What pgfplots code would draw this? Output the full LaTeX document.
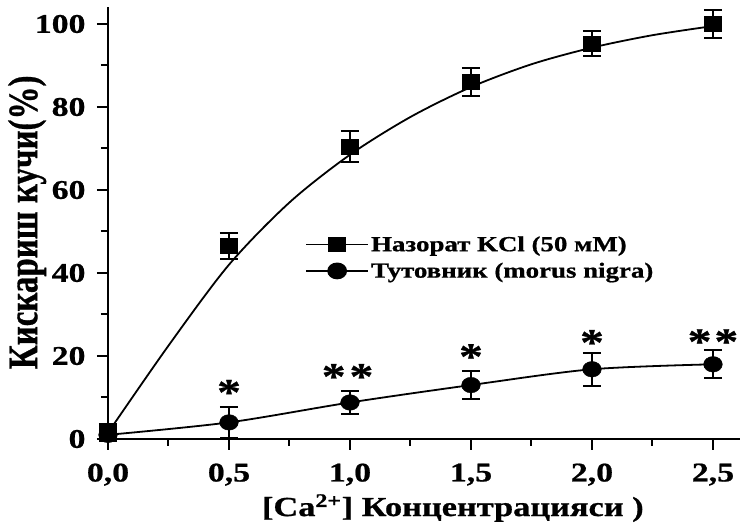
\documentclass[border=0pt]{standalone}
\usepackage{fontspec}
\setmainfont{Liberation Serif}[FakeStretch=1.25, BoldFeatures={FakeBold=0.8}]
\newfontfamily\ylabfont{Liberation Serif}[BoldFeatures={FakeBold=0.8}]
\usepackage{graphicx}
\usepackage{pgfplots}
\pgfplotsset{compat=1.18}

\pgfplotstableread{
x y e
0.0 1.5 2.0
0.5 46.5 3.2
1.0 70.4 3.7
1.5 86.0 3.3
2.0 95.2 3.0
2.5 100.0 3.4
}\control
\pgfplotstableread{
x y
0.00 1.5
0.25 22.5
0.50 42.0
0.75 57.0
1.00 68.5
1.25 77.6
1.50 84.8
1.75 90.3
2.00 94.3
2.25 97.3
2.50 99.5
}\controlfit
\pgfplotstableread{
x y e
0.0 1.0 1.0
0.5 4.0 3.7
1.0 8.8 2.8
1.5 13.0 3.4
2.0 16.8 4.0
2.5 18.0 3.4
}\morus
\pgfplotstableread{
x y s
0.5 8.2 *
0.99 12.0 *\kern4pt*
1.5 16.8 *
2.0 20.2 *
2.5 20.4 *\kern3pt*
}\stars

\begin{document}
\begin{tikzpicture}
\useasboundingbox (-108pt,-93pt) rectangle (632pt,439pt);
\begin{axis}[
  scale only axis, width=631.6pt, height=431.6pt,
  xmin=0, xmax=2.61, ymin=0, ymax=104,
  axis x line*=bottom, axis y line*=left,
  axis line style={line width=2.6pt, -},
  xtick={0,0.5,1,1.5,2,2.5},
  xticklabels={{0,0},{0,5},{1,0},{1,5},{2,0},{2,5}},
  minor xtick={0.25,0.75,1.25,1.75,2.25},
  ytick={0,20,40,60,80,100},
  yticklabels={0,20,40,60,80,100},
  minor ytick={10,30,50,70,90},
  tick align=outside,
  major tick length=11pt, minor tick length=7pt,
  every tick/.style={line width=2pt, black},
  tick label style={font=\fontsize{27}{27}\selectfont\bfseries},
  xticklabel style={yshift=-10pt},
  yticklabel style={xshift=-8pt},
  xlabel={[Ca\textsuperscript{2+}] Концентрацияси )},
  xlabel style={font=\fontsize{27.5}{27.5}\selectfont\bfseries, at={(axis description cs:0.546,-0.160)}, anchor=center},
  ylabel={\scalebox{1}[1.27]{\ylabfont\bfseries Кискариш кучи(\%)}},
  ylabel style={font=\fontsize{33}{33}\selectfont, at={(axis description cs:-0.128,0.502)}, anchor=center},
  legend style={at={(axis description cs:0.312,0.42)}, anchor=west, draw=none, fill=none,
    font=\fontsize{21.5}{21.5}\selectfont\bfseries, inner sep=0pt, row sep=6pt},
  legend cell align=left,
  legend image code/.code={\draw[mark repeat=2,mark phase=2,#1] plot coordinates {(0pt,0pt) (31pt,0pt) (62pt,0pt)};},
  clip=false,
]
% fitted curves
\addplot[black, line width=1.8pt, smooth, forget plot] table[x=x,y=y] {\controlfit};
\addplot[black, line width=1.8pt, smooth, forget plot] table[x=x,y=y] {\morus};
% points with error bars
\addplot[black, only marks, mark=square*, mark size=7.5pt, mark options={xscale=1.12}, forget plot,
  error bars/.cd, y dir=both, y explicit, error bar style={line width=2pt}, error mark options={rotate=90, mark size=9pt, line width=2pt}]
  table[x=x,y=y,y error=e] {\control};
\addplot[black, only marks, mark=*, mark size=7.8pt, mark options={xscale=1.2}, forget plot,
  error bars/.cd, y dir=both, y explicit, error bar style={line width=2pt}, error mark options={rotate=90, mark size=9pt, line width=2pt}]
  table[x=x,y=y,y error=e] {\morus};
% significance stars
\addplot[only marks, mark=none, nodes near coords, point meta=explicit symbolic,
  nodes near coords style={anchor=base, font=\fontsize{38}{38}\selectfont\bfseries, inner sep=0pt}, forget plot]
  table[x=x,y=y,meta=s] {\stars};
% legend
\addlegendimage{black, line width=1.8pt, mark=square*, mark size=7pt, mark options={xscale=1.12}}
\addlegendentry{Назорат KCl (50 мМ)}
\addlegendimage{black, line width=1.8pt, mark=*, mark size=7.5pt, mark options={xscale=1.2}}
\addlegendentry{Тутовник (morus nigra)}
\end{axis}
\end{tikzpicture}
\end{document}
